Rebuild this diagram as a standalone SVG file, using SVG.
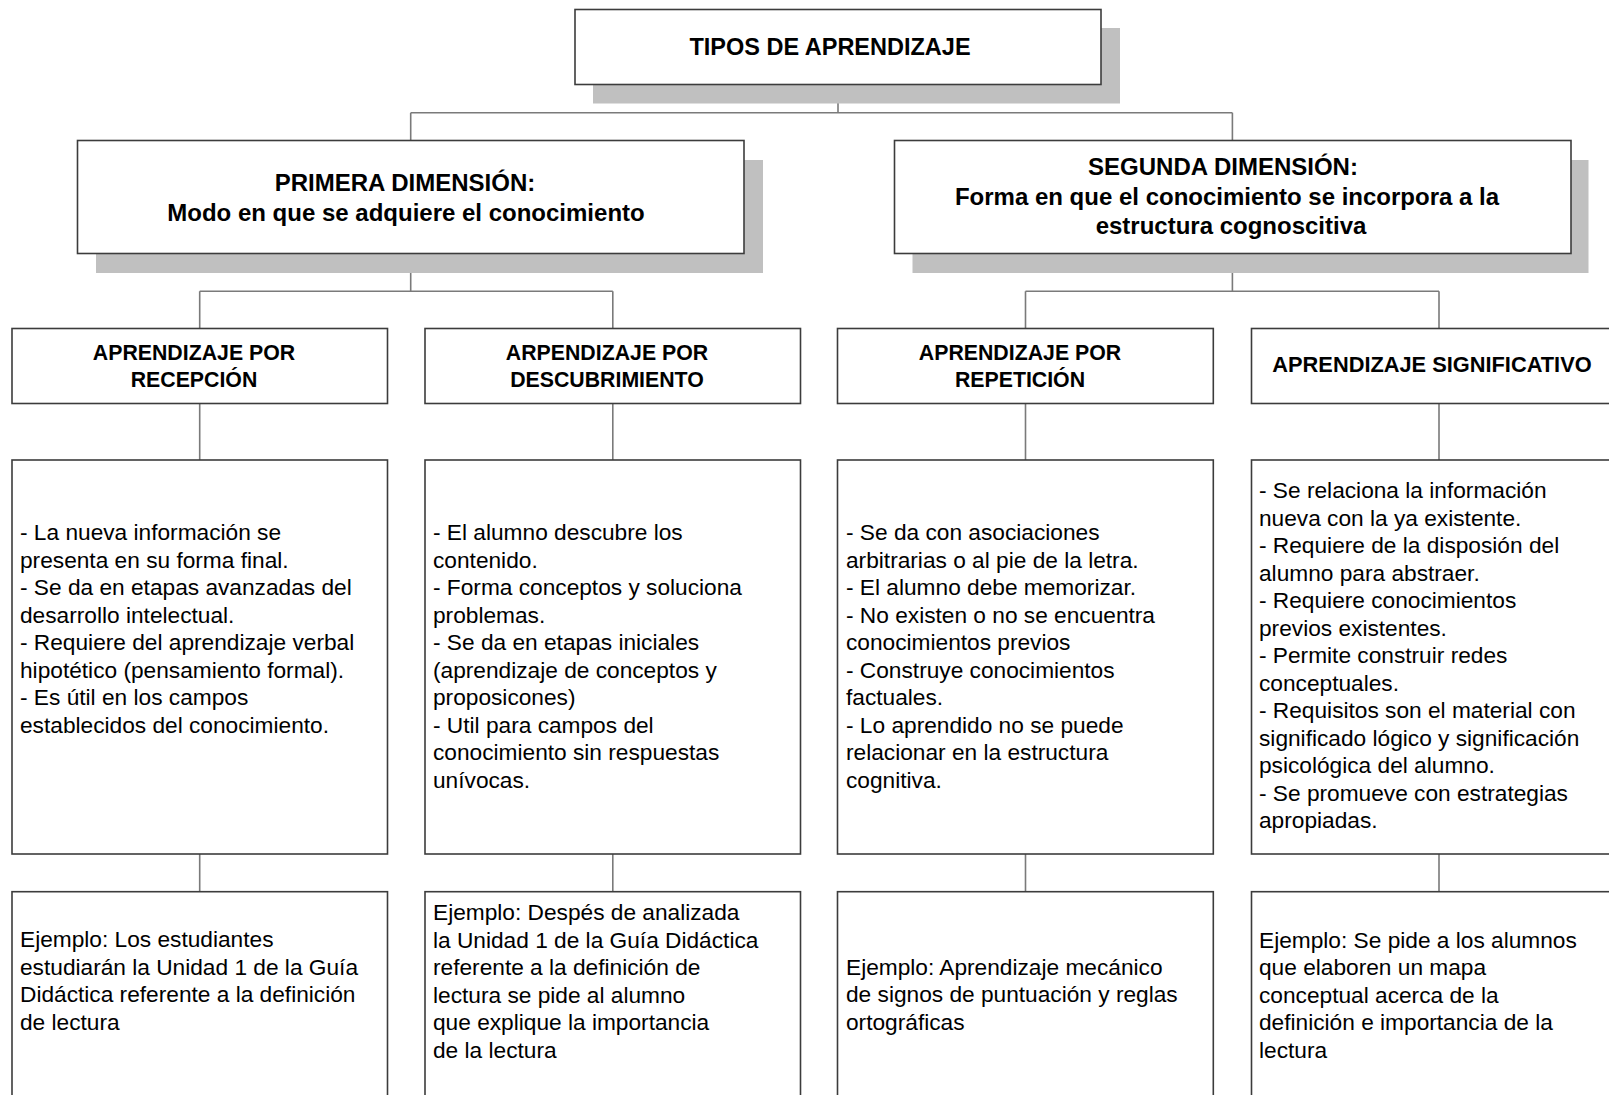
<svg xmlns="http://www.w3.org/2000/svg" width="1609" height="1095" viewBox="0 0 1609 1095">
<style>
.bg{fill:#ffffff}
.shadow{fill:#c0c0c0;stroke:none}
.box{fill:#ffffff;stroke:#3c3c3c;stroke-width:1.6}
.conn{fill:none;stroke:#7a7a7a;stroke-width:1.6}
.h1{font-family:"Liberation Sans",Arial,sans-serif;font-weight:bold;font-size:23.5px;fill:#000;text-anchor:middle}
.h2{font-family:"Liberation Sans",Arial,sans-serif;font-weight:bold;font-size:24px;fill:#000;text-anchor:middle}
.h3{font-family:"Liberation Sans",Arial,sans-serif;font-weight:bold;font-size:21.3px;fill:#000;text-anchor:middle}
.body{font-family:"Liberation Sans",Arial,sans-serif;font-size:22.7px;fill:#000}
</style>
<rect class="bg" x="0" y="0" width="1609" height="1095"/>

<g id="connectors">
<path class="conn" d="M838 84.3V112.7M410.7 112.7H1232.4M410.7 112.7V140.5M1232.4 112.7V140.5"/>
<path class="conn" d="M410.7 253.5V291.3M199.7 291.3H612.8M199.7 291.3V328.5M612.8 291.3V328.5"/>
<path class="conn" d="M1232.4 253.5V291.3M1025.5 291.3H1439M1025.5 291.3V328.5M1439 291.3V328.5"/>
<path class="conn" d="M199.7 403.5V460M612.8 403.5V460M1025.5 403.5V460M1439 403.5V460"/>
<path class="conn" d="M199.7 854V891.7M612.8 854V891.7M1025.5 854V891.7M1439 854V891.7"/>
</g>

<g id="tipos">
<rect class="shadow" x="593" y="28" width="527" height="75.5"/>
<rect class="box" x="575" y="9.5" width="526" height="75"/>
<text class="h1" x="830" y="55">TIPOS DE APRENDIZAJE</text>
</g>

<g id="primera">
<rect class="shadow" x="96" y="160" width="667" height="113"/>
<rect class="box" x="77.5" y="140.5" width="666.5" height="113"/>
<text class="h2"><tspan x="405" y="190.5">PRIMERA DIMENSIÓN:</tspan><tspan x="406" y="220.5">Modo en que se adquiere el conocimiento</tspan></text>
</g>

<g id="segunda">
<rect class="shadow" x="912.5" y="160" width="676" height="113"/>
<rect class="box" x="894.5" y="140.5" width="676.5" height="113"/>
<text class="h2"><tspan x="1223" y="175">SEGUNDA DIMENSIÓN:</tspan><tspan x="1227" y="204.5">Forma en que el conocimiento se incorpora a la</tspan><tspan x="1231" y="234">estructura cognoscitiva</tspan></text>
</g>

<g id="recepcion">
<rect class="box" x="12" y="328.5" width="375.5" height="75"/>
<text class="h3"><tspan x="194" y="360">APRENDIZAJE POR</tspan><tspan x="194" y="386.5">RECEPCIÓN</tspan></text>
</g>

<g id="descubrimiento">
<rect class="box" x="425" y="328.5" width="375.5" height="75"/>
<text class="h3"><tspan x="607" y="360">ARPENDIZAJE POR</tspan><tspan x="607" y="386.5">DESCUBRIMIENTO</tspan></text>
</g>

<g id="repeticion">
<rect class="box" x="837.5" y="328.5" width="375.8" height="75"/>
<text class="h3"><tspan x="1020" y="360">APRENDIZAJE POR</tspan><tspan x="1020" y="386.5">REPETICIÓN</tspan></text>
</g>

<g id="significativo">
<rect class="box" x="1251.5" y="328.5" width="376" height="75"/>
<text class="h3" x="1432" y="372" style="font-size:21.8px">APRENDIZAJE SIGNIFICATIVO</text>
</g>

<g id="recepcion-desc">
<rect class="box" x="12" y="460" width="375.5" height="394"/>
<text class="body">
<tspan x="20" y="540">- La nueva información se</tspan>
<tspan x="20" y="567.5">presenta en su forma final.</tspan>
<tspan x="20" y="595">- Se da en etapas avanzadas del</tspan>
<tspan x="20" y="622.5">desarrollo intelectual.</tspan>
<tspan x="20" y="650">- Requiere del aprendizaje verbal</tspan>
<tspan x="20" y="677.5">hipotético (pensamiento formal).</tspan>
<tspan x="20" y="705">- Es útil en los campos</tspan>
<tspan x="20" y="732.5">establecidos del conocimiento.</tspan>
</text>
</g>

<g id="descubrimiento-desc">
<rect class="box" x="425" y="460" width="375.5" height="394"/>
<text class="body">
<tspan x="433" y="540">- El alumno descubre los</tspan>
<tspan x="433" y="567.5">contenido.</tspan>
<tspan x="433" y="595">- Forma conceptos y soluciona</tspan>
<tspan x="433" y="622.5">problemas.</tspan>
<tspan x="433" y="650">- Se da en etapas iniciales</tspan>
<tspan x="433" y="677.5">(aprendizaje de conceptos y</tspan>
<tspan x="433" y="705">proposicones)</tspan>
<tspan x="433" y="732.5">- Util para campos del</tspan>
<tspan x="433" y="760">conocimiento sin respuestas</tspan>
<tspan x="433" y="787.5">unívocas.</tspan>
</text>
</g>

<g id="repeticion-desc">
<rect class="box" x="837.5" y="460" width="375.8" height="394"/>
<text class="body">
<tspan x="846" y="540">- Se da con asociaciones</tspan>
<tspan x="846" y="567.5">arbitrarias o al pie de la letra.</tspan>
<tspan x="846" y="595">- El alumno debe memorizar.</tspan>
<tspan x="846" y="622.5">- No existen o no se encuentra</tspan>
<tspan x="846" y="650">conocimientos previos</tspan>
<tspan x="846" y="677.5">- Construye conocimientos</tspan>
<tspan x="846" y="705">factuales.</tspan>
<tspan x="846" y="732.5">- Lo aprendido no se puede</tspan>
<tspan x="846" y="760">relacionar en la estructura</tspan>
<tspan x="846" y="787.5">cognitiva.</tspan>
</text>
</g>

<g id="significativo-desc">
<rect class="box" x="1251.5" y="460" width="376" height="394"/>
<text class="body">
<tspan x="1259" y="498">- Se relaciona la información</tspan>
<tspan x="1259" y="525.5">nueva con la ya existente.</tspan>
<tspan x="1259" y="553">- Requiere de la disposión del</tspan>
<tspan x="1259" y="580.5">alumno para abstraer.</tspan>
<tspan x="1259" y="608">- Requiere conocimientos</tspan>
<tspan x="1259" y="635.5">previos existentes.</tspan>
<tspan x="1259" y="663">- Permite construir redes</tspan>
<tspan x="1259" y="690.5">conceptuales.</tspan>
<tspan x="1259" y="718">- Requisitos son el material con</tspan>
<tspan x="1259" y="745.5">significado lógico y significación</tspan>
<tspan x="1259" y="773">psicológica del alumno.</tspan>
<tspan x="1259" y="800.5">- Se promueve con estrategias</tspan>
<tspan x="1259" y="828">apropiadas.</tspan>
</text>
</g>

<g id="recepcion-ejemplo">
<rect class="box" x="12" y="891.7" width="375.5" height="230"/>
<text class="body">
<tspan x="20" y="947">Ejemplo: Los estudiantes</tspan>
<tspan x="20" y="974.5">estudiarán la Unidad 1 de la Guía</tspan>
<tspan x="20" y="1002">Didáctica referente a la definición</tspan>
<tspan x="20" y="1029.5">de lectura</tspan>
</text>
</g>

<g id="descubrimiento-ejemplo">
<rect class="box" x="425" y="891.7" width="375.5" height="230"/>
<text class="body">
<tspan x="433" y="920">Ejemplo: Despés de analizada</tspan>
<tspan x="433" y="947.5">la Unidad 1 de la Guía Didáctica</tspan>
<tspan x="433" y="975">referente a la definición de</tspan>
<tspan x="433" y="1002.5">lectura se pide al alumno</tspan>
<tspan x="433" y="1030">que explique la importancia</tspan>
<tspan x="433" y="1057.5">de la lectura</tspan>
</text>
</g>

<g id="repeticion-ejemplo">
<rect class="box" x="837.5" y="891.7" width="375.8" height="230"/>
<text class="body">
<tspan x="846" y="974.5">Ejemplo: Aprendizaje mecánico</tspan>
<tspan x="846" y="1002">de signos de puntuación y reglas</tspan>
<tspan x="846" y="1029.5">ortográficas</tspan>
</text>
</g>

<g id="significativo-ejemplo">
<rect class="box" x="1251.5" y="891.7" width="376" height="230"/>
<text class="body">
<tspan x="1259" y="947.5">Ejemplo: Se pide a los alumnos</tspan>
<tspan x="1259" y="975">que elaboren un mapa</tspan>
<tspan x="1259" y="1002.5">conceptual acerca de la</tspan>
<tspan x="1259" y="1030">definición e importancia de la</tspan>
<tspan x="1259" y="1057.5">lectura</tspan>
</text>
</g>
</svg>
